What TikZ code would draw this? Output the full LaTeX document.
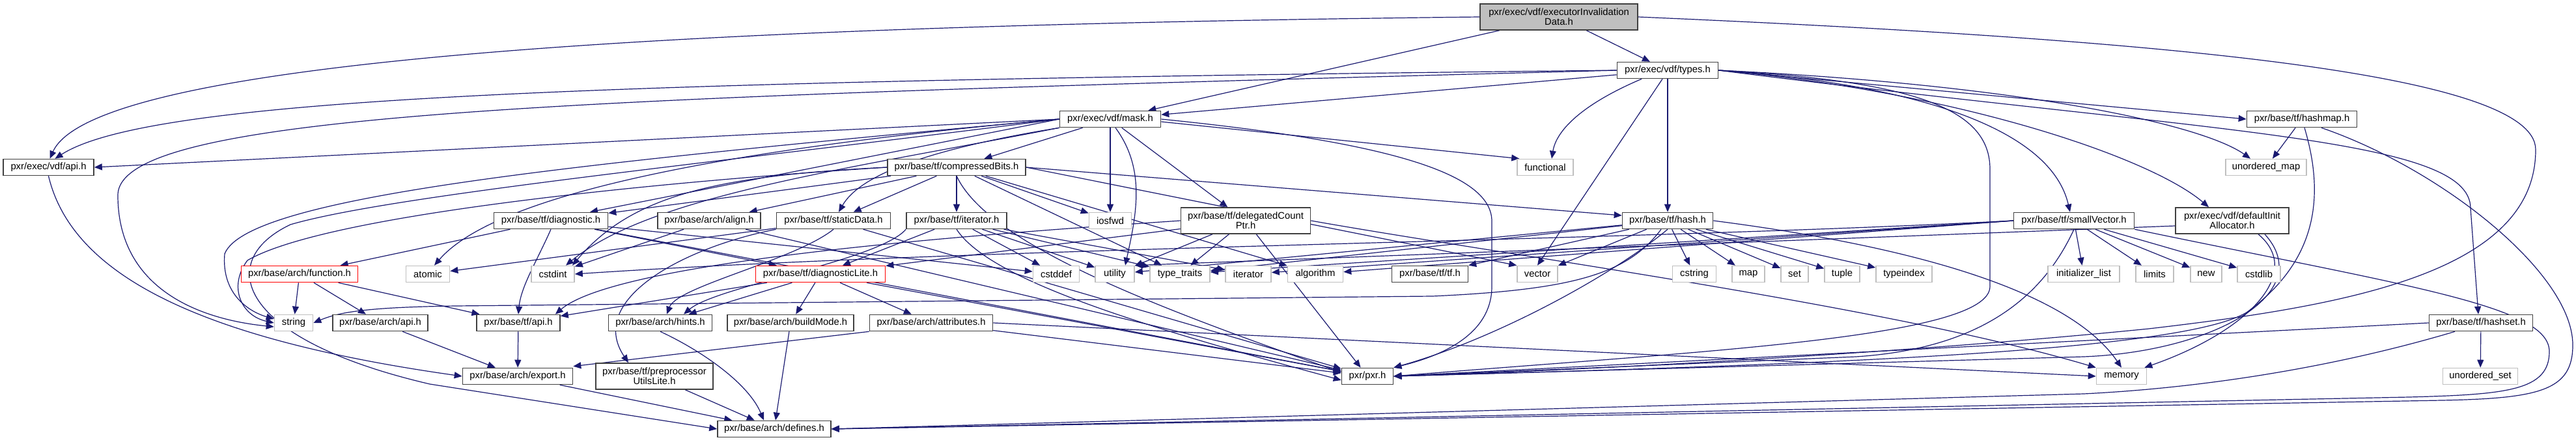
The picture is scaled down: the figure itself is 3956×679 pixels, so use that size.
\documentclass[tikz,border=0pt]{standalone}
\usepackage{fontspec}
\setmainfont{Liberation Sans}
\usetikzlibrary{arrows.meta}
\definecolor{edgec}{HTML}{191970}
\definecolor{rootfill}{HTML}{BFBFBF}
\definecolor{sysborder}{HTML}{BFBFBF}
\definecolor{nodeborder}{HTML}{404040}
\definecolor{redborder}{HTML}{FF0000}
\pgfdeclarelayer{bg}
\pgfsetlayers{bg,main}
\tikzset{
  nb/.style={draw=nodeborder, fill=white, line width=0.8pt, inner sep=0pt,
    minimum height=12.5pt, font=\fontsize{7.4pt}{7.6pt}\selectfont, align=center, text=black},
  sys/.style={nb, draw=sysborder},
  redn/.style={nb, draw=redborder},
  rootn/.style={nb, fill=rootfill},
  two/.style={minimum height=20pt},
  edg/.style={draw=edgec, line width=0.6pt, -{Triangle[length=6pt,width=5pt]}},
}
\begin{document}
\begin{tikzpicture}[x=0.5pt,y=-0.5pt]
\useasboundingbox (0,0) rectangle (3956,679);
% ---------------- nodes
\node[rootn, two, minimum width=121pt] (root) at (2394,26) {pxr/exec/vdf/executorInvalidation\\Data.h};
\node[nb, minimum width=77.5pt] (types) at (2561,108) {pxr/exec/vdf/types.h};
\node[nb, minimum width=69.5pt] (vapi) at (74.5,257) {pxr/exec/vdf/api.h};
\node[nb, minimum width=77.5pt] (mask) at (1705,183) {pxr/exec/vdf/mask.h};
\node[nb, minimum width=84.5pt] (hashmap) at (3535,183) {pxr/base/tf/hashmap.h};
\node[nb, minimum width=106pt] (cbits) at (1469,257) {pxr/base/tf/compressedBits.h};
\node[sys, minimum width=43pt] (sfunctional) at (2373,257) {functional};
\node[sys, minimum width=62pt] (sumap) at (3480,257) {unordered\_map};
\node[nb, minimum width=87.5pt] (diag) at (846,339) {pxr/base/tf/diagnostic.h};
\node[nb, minimum width=79pt] (align) at (1089,339) {pxr/base/arch/align.h};
\node[nb, minimum width=87.5pt] (sdata) at (1280,339) {pxr/base/tf/staticData.h};
\node[nb, minimum width=77pt] (iter) at (1469,339) {pxr/base/tf/iterator.h};
\node[sys, minimum width=32.5pt] (siosfwd) at (1705,339) {iosfwd};
\node[nb, two, minimum width=99.5pt] (dcp) at (1913,339) {pxr/base/tf/delegatedCount\\Ptr.h};
\node[nb, minimum width=69.5pt] (hash) at (2561,339) {pxr/base/tf/hash.h};
\node[nb, minimum width=92.5pt] (svec) at (3185,339) {pxr/base/tf/smallVector.h};
\node[nb, two, minimum width=87pt] (dia) at (3428,339) {pxr/exec/vdf/defaultInit\\Allocator.h};
\node[redn, minimum width=89.5pt] (func) at (460,421) {pxr/base/arch/function.h};
\node[sys, minimum width=33.5pt] (satomic) at (657,421) {atomic};
\node[sys, minimum width=33pt] (scstdint) at (849,421) {cstdint};
\node[redn, minimum width=99.5pt] (diaglite) at (1260,421) {pxr/base/tf/diagnosticLite.h};
\node[sys, minimum width=35.5pt] (scstddef) at (1622,421) {cstddef};
\node[sys, minimum width=30pt] (sutility) at (1712,421) {utility};
\node[sys, minimum width=46pt] (stypetraits) at (1812,421) {type\_traits};
\node[sys, minimum width=35pt] (siterator) at (1917,421) {iterator};
\node[sys, minimum width=42.5pt] (salgorithm) at (2020,421) {algorithm};
\node[nb, minimum width=58.5pt] (tfh) at (2196,421) {pxr/base/tf/tf.h};
\node[sys, minimum width=31pt] (svector) at (2361,421) {vector};
\node[sys, minimum width=33.5pt] (scstring) at (2602,421) {cstring};
\node[sys, minimum width=25pt] (smap) at (2685,421) {map};
\node[sys, minimum width=21pt] (sset) at (2756,421) {set};
\node[sys, minimum width=27pt] (stuple) at (2829,421) {tuple};
\node[sys, minimum width=43pt] (stypeindex) at (2924,421) {typeindex};
\node[sys, minimum width=55pt] (sinitlist) at (3200,421) {initializer\_list};
\node[sys, minimum width=29pt] (slimits) at (3309,421) {limits};
\node[sys, minimum width=24pt] (snew) at (3388,421) {new};
\node[sys, minimum width=33pt] (scstdlib) at (3469,421) {cstdlib};
\node[sys, minimum width=29.5pt] (sstring) at (451,496) {string};
\node[nb, minimum width=73pt] (aapi) at (584,496) {pxr/base/arch/api.h};
\node[nb, minimum width=64pt] (tapi) at (796,496) {pxr/base/tf/api.h};
\node[nb, minimum width=79.5pt] (hints) at (1014,496) {pxr/base/arch/hints.h};
\node[nb, minimum width=97pt] (bmode) at (1214,496) {pxr/base/arch/buildMode.h};
\node[nb, minimum width=94.5pt] (attrs) at (1430,496) {pxr/base/arch/attributes.h};
\node[nb, minimum width=79.5pt] (hashset) at (3810,496) {pxr/base/tf/hashset.h};
\node[nb, minimum width=84.5pt] (export) at (795,578) {pxr/base/arch/export.h};
\node[nb, two, minimum width=90pt] (pputil) at (1005,578) {pxr/base/tf/preprocessor\\UtilsLite.h};
\node[nb, minimum width=39.5pt] (pxr) at (2100,578) {pxr/pxr.h};
\node[sys, minimum width=38.5pt] (smemory) at (3258,578) {memory};
\node[sys, minimum width=57.5pt] (suset) at (3809,578) {unordered\_set};
\node[nb, minimum width=87pt] (defines) at (1189,659) {pxr/base/arch/defines.h};
% ---------------- edges
\begin{pgfonlayer}{bg}
\fill[white] (0,0) rectangle (3956,679);
% root
\draw[edg] (root.west) .. controls (1200,38) and (150,80) .. ([xshift=1pt]vapi.north);
\draw[edg] (root) -- (mask);
\draw[edg] (root) -- (types);
\draw[edg] (root.east) .. controls (3300,60) and (3894,110) .. (3894,230) .. controls (3894,420) and (3600,470) .. (3300,505) .. controls (2900,545) and (2400,570) .. (pxr.east);
% types
\draw[edg] (types) -- (mask);
\draw[edg] (types.west) .. controls (900,125) and (230,150) .. ([xshift=5pt]vapi.north);
\draw[edg] (types.west) .. controls (900,150) and (181,170) .. (181,300) .. controls (181,440) and (300,490) .. ([yshift=-3pt]sstring.west);
\draw[edg] ([xshift=-20pt]types.south) .. controls (2430,160) and (2390,200) .. ([xshift=5pt]sfunctional.north);
\draw[edg] (types) -- (hash);
\draw[edg] ([xshift=-4pt]types.south) -- (svector.north);
\draw[edg] (types.east) .. controls (2950,130) and (3150,200) .. ([xshift=-3pt]svec.north);
\draw[edg] (types.east) -- (hashmap.west);
\draw[edg] (types.east) .. controls (3100,130) and (3380,190) .. ([xshift=-12pt]sumap.north);
\draw[edg] (types.east) .. controls (3000,140) and (3300,240) .. ([xshift=-18pt]dia.north);
\draw[edg] (types.east) .. controls (3400,205) and (3794,210) .. (3794,320) -- ([xshift=-2pt]hashset.north);
\draw[edg] (types.east) .. controls (2950,125) and (3056,170) .. (3056,260) -- (3056,440) .. controls (3056,520) and (2600,540) .. (pxr.east);
% mask
\draw[edg] (mask.west) -- (vapi.east);
\draw[edg] (mask) -- (cbits);
\draw[edg] (mask) -- (siosfwd);
\draw[edg] ([xshift=4pt]mask.south) .. controls (1760,260) and (1745,330) .. ([xshift=8pt]sutility.north);
\draw[edg] (mask) -- (dcp);
\draw[edg] ([yshift=-2pt]mask.east) -- ([xshift=2pt]sfunctional.north west);
\draw[edg] (mask.east) .. controls (2150,220) and (2291,270) .. (2291,340) -- (2291,440) .. controls (2291,520) and (2200,550) .. (pxr.north east);
\draw[edg] (mask.west) -- ([xshift=30pt]diag.north);
\draw[edg] (mask.south west) .. controls (1420,230) and (1320,270) .. ([xshift=4pt]sdata.north);
\draw[edg] (mask.west) .. controls (900,250) and (380,300) .. (345,390) .. controls (340,450) and (380,478) .. ([yshift=3pt]sstring.west);
\draw[edg] (mask.west) .. controls (1100,230) and (760,300) .. ([xshift=5pt]satomic.north);
\draw[edg] (mask.south west) .. controls (1300,260) and (1000,300) .. ([xshift=10pt]scstdint.north);
\draw[edg] (mask.west) .. controls (1100,250) and (600,300) .. (446,345) .. controls (330,400) and (360,520) .. (660,590) -- (defines.west);
% compressedBits
\draw[edg] (cbits) -- (diag);
\draw[edg] (cbits) -- (align);
\draw[edg] (cbits) -- (sdata);
\draw[edg] (cbits) -- (iter);
\draw[edg] (cbits) -- (siosfwd);
\draw[edg] (cbits.east) -- ([yshift=4pt]hash.west);
\draw[edg] (cbits.east) -- (svector.north west);
\draw[edg] (cbits) -- (stypetraits);
\draw[edg] (cbits) -- (salgorithm);
\draw[edg] (cbits.south) .. controls (1520,380) and (1800,480) .. ([yshift=3pt]pxr.west);
\draw[edg] (cbits.west) .. controls (1100,270) and (970,300) .. ([xshift=15pt]scstdint.north);
\draw[edg] (cbits.west) .. controls (1000,280) and (500,330) .. (380,400) .. controls (350,440) and (370,485) .. (sstring.west);
% diagnostic
\draw[edg] (diag) -- (func);
\draw[edg] (diag.south) .. controls (825,400) and (800,440) .. (tapi.north);
\draw[edg] (diag) -- (diaglite);
\draw[edg] (diag) -- (scstddef);
\draw[edg] (diag) -- (pxr);
% align
\draw[edg] (align) -- (scstdint);
\draw[edg] (align) -- (pxr);
% staticData
\draw[edg] (sdata) -- (satomic);
\draw[edg] (sdata.south) .. controls (1220,400) and (1040,440) .. ([xshift=5pt]hints.north);
\draw[edg] (sdata.south west) .. controls (1050,380) and (900,460) .. ([xshift=-20pt]pputil.north);
\draw[edg] (sdata) -- (pxr);
% iterator.h
\draw[edg] (iter) -- (diaglite);
\draw[edg] (iter.south west) .. controls (1350,400) and (1100,440) .. ([xshift=18pt]hints.north);
\draw[edg] (iter) -- (siterator);
\draw[edg] (iter) -- (stypetraits);
\draw[edg] (iter) -- (sutility);
\draw[edg] (iter) -- (scstddef);
\draw[edg] (iter.south) .. controls (1520,430) and (1750,500) .. ([yshift=-3pt]pxr.west);
% delegatedCountPtr
\draw[edg] (dcp.west) .. controls (1500,360) and (950,400) .. ([xshift=-4pt]tapi.north east);
\draw[edg] (dcp) -- (diaglite);
\draw[edg] (dcp) -- (sutility);
\draw[edg] (dcp) -- (stypetraits);
\draw[edg] (dcp.east) .. controls (2300,390) and (2900,470) .. (smemory.north west);
\draw[edg] (dcp) -- (pxr);
% hash
\draw[edg] (hash) -- (tfh);
\draw[edg] (hash) -- (svector);
\draw[edg] (hash) -- (scstring);
\draw[edg] (hash) -- (smap);
\draw[edg] (hash) -- (sset);
\draw[edg] (hash) -- (stuple);
\draw[edg] (hash) -- (stypeindex);
\draw[edg] (hash.east) .. controls (2950,380) and (3180,450) .. (smemory.north);
\draw[edg] ([xshift=-5pt]hash.south) .. controls (2500,420) and (2420,445) .. (2200,455) -- (700,470) .. controls (560,472) and (520,480) .. (sstring.east);
\draw[edg] (hash.south) .. controls (2480,420) and (2300,520) .. (pxr.north east);
\draw[edg] (hash) -- (stypetraits);
\draw[edg] (hash) -- (sutility);
% smallVector
\draw[edg] (svec) -- (sinitlist);
\draw[edg] (svec) -- (slimits);
\draw[edg] (svec) -- (snew);
\draw[edg] (svec) -- (scstdlib);
\draw[edg] (svec.west) -- (salgorithm);
\draw[edg] (svec.west) -- (siterator);
\draw[edg] (svec.west) -- (stypetraits);
\draw[edg] (svec.west) .. controls (2500,370) and (1500,380) .. (scstdint.east);
\draw[edg] (svec.south) .. controls (3140,450) and (3050,535) .. (2850,548) -- (pxr.east);
\draw[edg] (svec.south east) .. controls (3700,440) and (3915,470) .. (3915,540) .. controls (3915,600) and (3850,606) .. (3700,610) -- (defines.east);
% defaultInitAllocator
\draw[edg] ([yshift=-4pt]dia.west) -- (sutility.north east);
\draw[edg] ([xshift=20pt]dia.south) .. controls (3540,420) and (3450,510) .. ([xshift=-2pt]smemory.north east);
\draw[edg] ([xshift=25pt]dia.south) .. controls (3560,450) and (3400,540) .. (3200,548) -- (pxr.east);
% hashmap
\draw[edg] (hashmap) -- (sumap);
\draw[edg] ([xshift=2pt]hashmap.south) .. controls (3570,300) and (3560,400) .. (3450,480) .. controls (3350,540) and (2800,560) .. (pxr.east);
\draw[edg] ([xshift=15pt]hashmap.south) .. controls (3750,260) and (3951,420) .. (3951,530) .. controls (3951,600) and (3900,612) .. (3750,615) -- (defines.east);
% hashset
\draw[edg] (hashset) -- (suset);
\draw[edg] (hashset.west) -- (pxr.east);
\draw[edg] ([xshift=-20pt]hashset.south) .. controls (3600,560) and (3400,595) .. (3200,605) -- (defines.east);
% function
\draw[edg] (func) -- (sstring);
\draw[edg] (func) -- (aapi);
\draw[edg] (func) -- (tapi);
% diagnosticLite
\draw[edg] (diaglite) -- (tapi);
\draw[edg] (diaglite) -- (hints);
\draw[edg] (diaglite) -- (bmode);
\draw[edg] (diaglite) -- (attrs);
\draw[edg] (diaglite) -- (pxr);
% attributes
\draw[edg] (attrs.south west) -- ([yshift=1pt]export.north east);
\draw[edg] (attrs) -- (pxr);
\draw[edg] (attrs.east) -- (smemory.west);
% lower
\draw[edg] (tapi) -- (export);
\draw[edg] (aapi) -- (export);
\draw[edg] (export) -- (defines);
\draw[edg] (pputil) -- (defines);
\draw[edg] (hints.south) .. controls (1080,540) and (1150,590) .. ([xshift=-8pt]defines.north);
\draw[edg] (bmode) -- (defines);
\draw[edg] (vapi.south) .. controls (110,420) and (300,520) .. (export.west);
\end{pgfonlayer}
\end{tikzpicture}
\end{document}
